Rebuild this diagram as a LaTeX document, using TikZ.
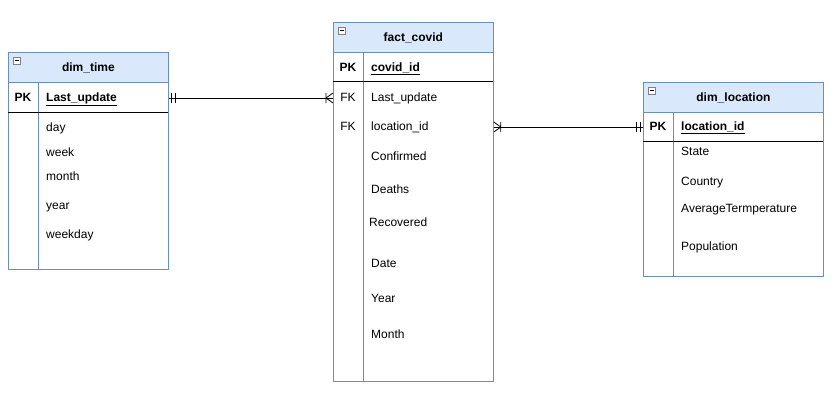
\documentclass[tikz,border=0pt]{standalone}
\usepackage{fontspec}
\setmainfont{Liberation Sans}
\usetikzlibrary{calc}

\definecolor{hdrfill}{HTML}{DAE8FC}
\definecolor{hdrline}{HTML}{6C8EBF}

\begin{document}
\begin{tikzpicture}[x=1pt,y=-1pt,font=\fontsize{12}{14}\selectfont,
    tbl/.style={draw=hdrline,line width=0.8pt,fill=white,anchor=north west,inner sep=0pt},
    hdr/.style={tbl,fill=hdrfill,minimum height=30pt,font=\fontsize{12}{14}\selectfont\bfseries},
    fld/.style={anchor=west,inner sep=0pt,text height=9pt,text depth=3pt,yshift=-1pt},
    key/.style={inner sep=0pt,text height=9pt,text depth=3pt,yshift=-1pt},
    rel/.style={line width=0.8pt}]
    \useasboundingbox (0,0) rectangle (834,416);

    % tables
    \node[tbl,minimum width=160pt,minimum height=187pt] (time) at (8,82) {};
    \node[hdr,minimum width=160pt] (time-h) at (8,52) {dim\_time};
    \node[tbl,minimum width=160pt,minimum height=329pt] (covid) at (333,52) {};
    \node[hdr,minimum width=160pt] (covid-h) at (333,22) {fact\_covid};
    \node[tbl,minimum width=180pt,minimum height=164pt] (loc) at (643,112) {};
    \node[hdr,minimum width=180pt] (loc-h) at (643,82) {dim\_location};

    % collapse icons
    \foreach \h in {time-h,covid-h,loc-h} {
        \draw[gray,fill=white,line width=0.5pt] ($(\h.north west)+(5,5)$) rectangle ++(7,7);
        \draw[black,line width=0.6pt] ($(\h.north west)+(6.5,8.5)$) -- ++(4,0);
    }

    % column dividers
    \draw[hdrline,line width=0.8pt] ($(time.north west)+(30,0)$) -- ($(time.south west)+(30,0)$);
    \draw[hdrline,line width=0.8pt] ($(covid.north west)+(30,0)$) -- ($(covid.south west)+(30,0)$);
    \draw[hdrline,line width=0.8pt] ($(loc.north west)+(30,0)$) -- ($(loc.south west)+(30,0)$);
    \draw[line width=0.9pt] (8,112) -- (168,112);
    \draw[line width=0.9pt] (333,81) -- (493,81);
    \draw[line width=0.9pt] (643,141) -- (823,141);

    % dim_time
    \node[key,font=\fontsize{12}{14}\selectfont\bfseries] (time-k) at (23,97) {PK};
    \node[fld,font=\fontsize{12}{14}\selectfont\bfseries] (time-pk) at (46,97) {\underline{Last\_update}};
    \foreach \y/\txt [count=\i] in {127/day,152/week,176/month,205/year,234/weekday}
        \node[fld] (time-\i) at (46,\y) {\txt};

    % fact_covid
    \node[key,font=\fontsize{12}{14}\selectfont\bfseries] (covid-k) at (348,67) {PK};
    \node[fld,font=\fontsize{12}{14}\selectfont\bfseries] (covid-pk) at (371,67) {\underline{covid\_id}};
    \node[key] (covid-k1) at (348,97) {FK};
    \node[key] (covid-k2) at (348,126) {FK};
    \node[fld] (covid-fk1) at (371,97) {Last\_update};
    \node[fld] (covid-fk2) at (371,126) {location\_id};
    \foreach \x/\y/\txt [count=\i] in {371/156/Confirmed,371/189/Deaths,369/222/Recovered,
        371/263/Date,371/298/Year,371/334/Month}
        \node[fld] (covid-\i) at (\x,\y) {\txt};

    % dim_location
    \node[key,font=\fontsize{12}{14}\selectfont\bfseries] (loc-k) at (658,126) {PK};
    \node[fld,font=\fontsize{12}{14}\selectfont\bfseries] (loc-pk) at (681,126) {\underline{location\_id}};
    \foreach \y/\txt [count=\i] in {151/State,181/Country,208/AverageTermperature,246/Population}
        \node[fld] (loc-\i) at (681,\y) {\txt};

    % relations
    \coordinate (r1a) at (time.east |- time-pk);
    \coordinate (r1b) at (covid.west |- covid-fk1);
    \draw[rel] (r1a) -- (r1b);
    \draw[rel] ($(r1a)+(3,-5)$) -- ++(0,10) ($(r1a)+(7,-5)$) -- ++(0,10);
    \draw[rel] ($(r1b)+(-7,-5)$) -- ++(0,10)
        ($(r1b)+(-7,0)$) -- ++(7,-5) ($(r1b)+(-7,0)$) -- ++(7,5);

    \coordinate (r2a) at (covid.east |- covid-fk2);
    \coordinate (r2b) at (loc.west |- loc-pk);
    \draw[rel] (r2a) -- (r2b);
    \draw[rel] ($(r2a)+(7,-5)$) -- ++(0,10)
        ($(r2a)+(7,0)$) -- ++(-7,-5) ($(r2a)+(7,0)$) -- ++(-7,5);
    \draw[rel] ($(r2b)+(-3,-5)$) -- ++(0,10) ($(r2b)+(-7,-5)$) -- ++(0,10);
\end{tikzpicture}
\end{document}
